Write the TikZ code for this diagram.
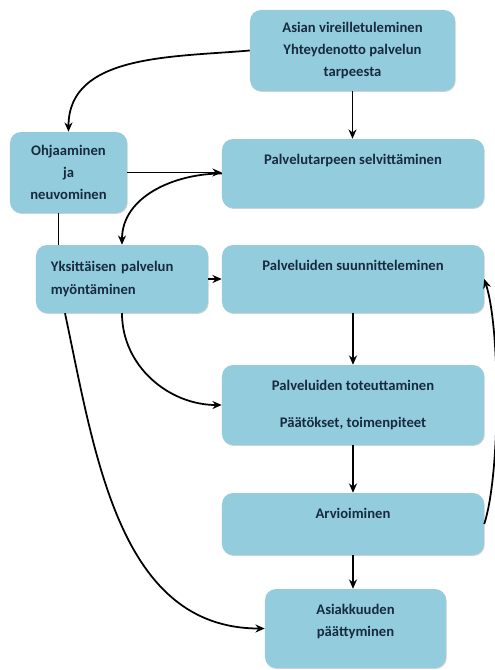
\documentclass[tikz,border=0pt]{standalone}
\usepackage{fontspec}
\setmainfont{Carlito}
\usepackage{tikz}
\usetikzlibrary{positioning, arrows.meta, shadows}
\definecolor{boxfill}{HTML}{93CDDD}
\definecolor{ink}{HTML}{172A40}

\begin{document}
\begin{tikzpicture}[x=0.03cm, y=-0.03cm,
    phase/.style={fill=boxfill, rounded corners=0.33cm, inner sep=0pt, align=center, text=ink,
      font=\fontsize{12.5}{19}\selectfont\bfseries,
      drop shadow={shadow xshift=0.6pt, shadow yshift=-0.8pt, opacity=0.35}},
    toptext/.style={label={[anchor=north, inner sep=0pt, yshift=-0.45cm, align=center, text=ink,
      font=\fontsize{12.5}{19}\selectfont\bfseries]north:#1}},
    flow/.style={-{Stealth[length=2.8mm, width=2.4mm]}, line width=1.5pt}]
        \useasboundingbox (0,0) rectangle (494,670);
        % left column
        \node[phase, minimum width=3.51cm, minimum height=2.43cm] (ohj) at (68.5,172.5) {Ohjaaminen\\ja\\neuvominen};
        \node[phase, minimum width=5.16cm, minimum height=2.04cm, align=left, text width=4.26cm] (yks) at (122,279) {Yksittäisen palvelun\\myöntäminen};
        % main column
        \node[phase, minimum width=6.15cm, minimum height=2.43cm] (ask) at (352.5,50.5) {Asian vireilletuleminen\\Yhteydenotto palvelun\\tarpeesta};
        \node[phase, minimum width=7.86cm, minimum height=2.07cm, toptext={Palvelutarpeen selvittäminen}] (selv) at (353,173.5) {};
        \node[phase, minimum width=7.86cm, minimum height=2.04cm, toptext={Palveluiden suunnitteleminen}] (suun) at (353,279) {};
        \node[phase, minimum width=7.86cm, minimum height=2.4cm] (tot) at (353,405) {Palveluiden toteuttaminen\\[12pt]Päätökset, toimenpiteet};
        \node[phase, minimum width=7.86cm, minimum height=1.86cm, toptext={Arvioiminen}] (arv) at (353,524) {};
        \node[phase, minimum width=5.43cm, minimum height=2.37cm, toptext={Asiakkuuden\\päättyminen}] (paat) at (355.5,628.5) {};
        % connectors
        \draw[flow] (ask.west) to[out=185, in=90] (ohj.north);
        \draw[flow] (ask.south) -- (ask.south |- selv.north);
        \draw[flow] (ohj.east) -- (ohj.east -| selv.west);
        \draw[flow] (selv.west) to[out=180, in=90] (yks.north);
        \draw[line width=1.5pt] ([xshift=-0.3cm]ohj.south) -- ([xshift=-0.3cm]ohj.south |- yks.north);
        \draw[flow] (yks.east) -- (suun.west);
        \draw[flow] (yks.south) to[out=-90, in=180] (tot.west);
        \draw[flow] ([xshift=-1.71cm]yks.south) to[out=-78, in=180] (paat.west);
        \draw[flow] (suun) -- (tot);
        \draw[flow] (tot) -- (arv);
        \draw[flow] (arv.south) -- (arv.south |- paat.north);
        \draw[flow] (arv.east) to[out=72, in=-72, looseness=0.55] (suun.east);
\end{tikzpicture}
\end{document}
